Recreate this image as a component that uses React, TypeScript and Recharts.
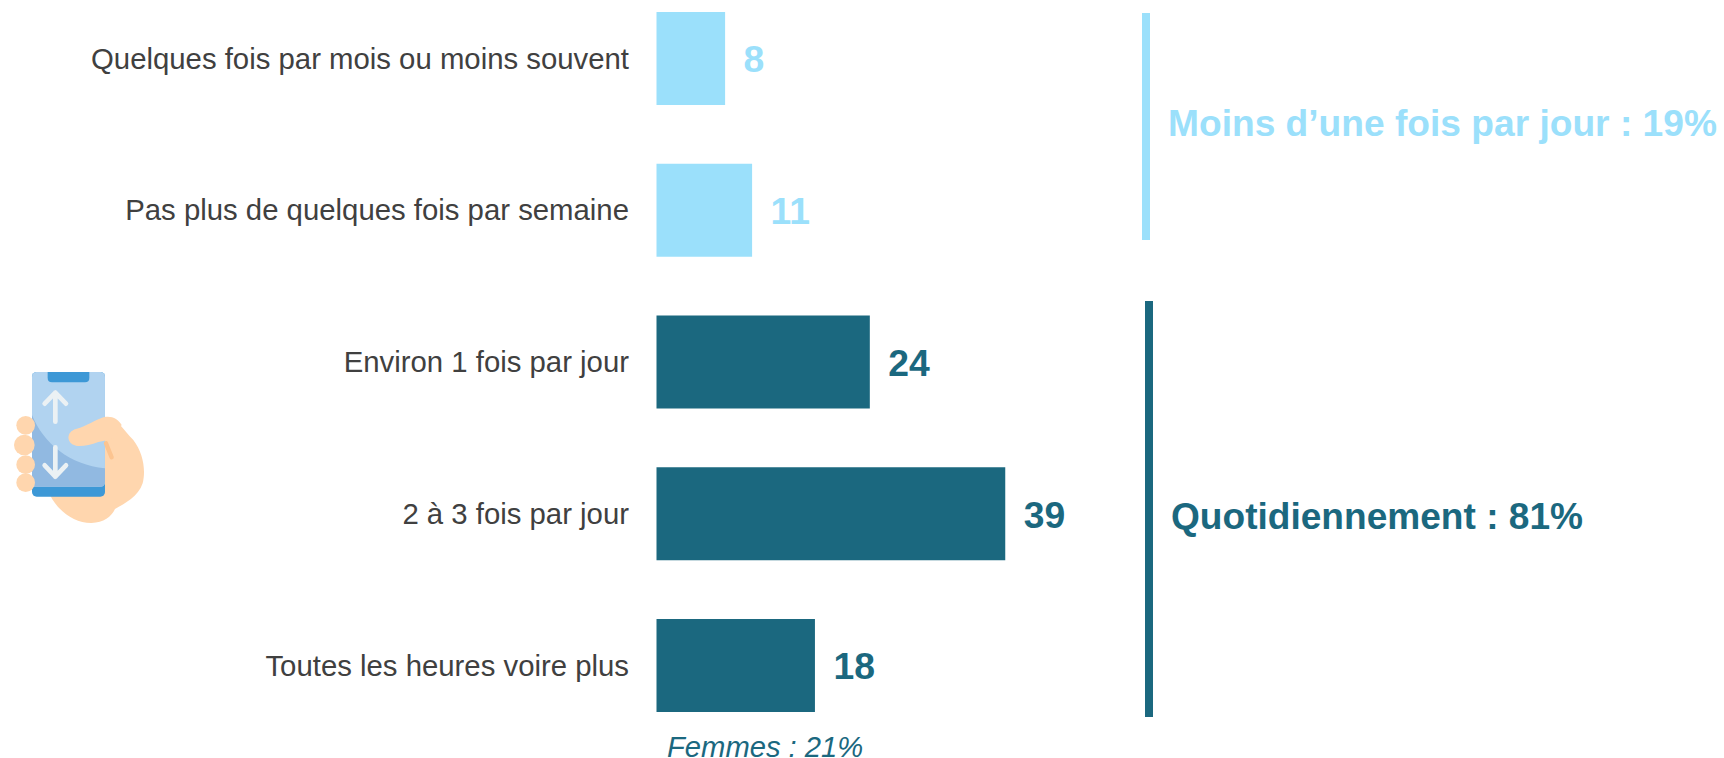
import { Bar, BarChart, Cell, LabelList, XAxis, YAxis } from 'recharts';

const categories = [
  'Quelques fois par mois ou moins souvent',
  'Pas plus de quelques fois par semaine',
  'Environ 1 fois par jour',
  '2 à 3 fois par jour',
  'Toutes les heures voire plus',
];
const shares = [7.75, 10.8, 24.1, 39.4, 17.9];
const shareLabels = ['8', '11', '24', '39', '18'];
const groups = ['light', 'light', 'dark', 'dark', 'dark'];

const LIGHT = '#9BE0FB';
const DARK = '#1B687F';
const FONT = '"Liberation Sans", Arial, sans-serif';

const data = categories.map((name, i) => ({ name, share: shares[i] }));
const colorOf = (i: number) => (groups[i] === 'light' ? LIGHT : DARK);

function ValueLabel(props: any) {
  const { x, y, width, height, index } = props;
  return (
    <text
      x={x + width + 18.5}
      y={y + height / 2 + 14}
      fill={colorOf(index)}
      fontSize={37.3}
      fontWeight={700}
      fontFamily={FONT}
    >
      {shareLabels[index]}
    </text>
  );
}

// phone in hand, drawn in a 3x grid
function PhoneIcon() {
  return (
    <g transform="translate(0 360) scale(0.3333)">
      <path
        d="M150 405 C175 455 225 490 275 489 C310 488 335 470 345 447 C375 430 415 410 428 370 C438 330 430 280 400 240 C385 225 370 205 352 185 C335 168 305 165 280 178 L200 230 Z"
        fill="#FFD6AE"
      />
      <rect x="96" y="36" width="219" height="374" rx="14" fill="#3D98D6" />
      <path d="M96 50 Q96 36 110 36 L301 36 Q315 36 315 50 L315 365 Q315 380 300 380 L96 380 Z" fill="#B1D3F0" />
      <path d="M96 165 C130 250 210 315 315 325 L315 365 Q315 380 300 380 L96 380 Z" fill="#91B9E1" />
      <path d="M143 36 L268 36 L268 54 Q268 67 255 67 L156 67 Q143 67 143 54 Z" fill="#3D98D6" />
      <g stroke="#EBF1F4" strokeWidth="14" strokeLinecap="round" strokeLinejoin="round" fill="none">
        <path d="M166 185 L166 98 M134 131 L166 98 L198 131" />
        <path d="M166 262 L166 350 M134 316 L166 350 L198 316" />
      </g>
      <path d="M318 250 L335 292" stroke="#FCC490" strokeWidth="13" strokeLinecap="round" />
      <path
        d="M228 207 C262 198 285 180 310 172 C335 166 355 178 365 195 L340 235 C325 242 310 243 295 246 C270 255 245 260 228 257 C198 250 198 215 228 207 Z"
        fill="#FFD6AE"
      />
      <g fill="#FFD6AE">
        <circle cx="77" cy="196" r="28" />
        <circle cx="73" cy="255" r="31" />
        <circle cx="77" cy="314" r="28" />
        <circle cx="77" cy="368" r="28" />
      </g>
    </g>
  );
}

export default function App() {
  return (
    <div
      style={{
        position: 'absolute',
        left: 0,
        top: 0,
        width: 1724,
        height: 758,
        overflow: 'hidden',
        background: '#fff',
      }}
    >
      <div style={{ position: 'absolute', left: 0, top: -18 }}>
        <BarChart
          width={1724}
          height={776}
          data={data}
          layout="vertical"
          barCategoryGap="19.5%"
          margin={{ top: 0.4, right: 0, bottom: 16.85, left: 0 }}
        >
          <XAxis type="number" hide domain={[0, 120.6]} />
          <YAxis
            type="category"
            dataKey="name"
            width={656.5}
            interval={0}
            axisLine={false}
            tickLine={false}
            tickMargin={21.5}
            tick={{ fill: '#404040', fontSize: 29.33, fontFamily: FONT }}
          />
          <Bar dataKey="share" isAnimationActive={false}>
            {data.map((d, i) => (
              <Cell key={d.name} fill={colorOf(i)} />
            ))}
            <LabelList dataKey="share" content={ValueLabel} />
          </Bar>
        </BarChart>
      </div>
      <svg
        width={1724}
        height={758}
        style={{ position: 'absolute', left: 0, top: 0 }}
        fontFamily={FONT}
      >
        <PhoneIcon />
        <rect x={1142} y={13} width={8} height={227} fill={LIGHT} />
        <rect x={1145} y={301} width={8} height={416} fill={DARK} />
        <text x={1168} y={136} fill={LIGHT} fontSize={37.15} fontWeight={700}>
          Moins d’une fois par jour : 19%
        </text>
        <text x={1171} y={529} fill={DARK} fontSize={37.1} fontWeight={700}>
          Quotidiennement : 81%
        </text>
        <text x={667} y={757} fill={DARK} fontSize={29.2} fontStyle="italic">
          Femmes : 21%
        </text>
      </svg>
    </div>
  );
}
